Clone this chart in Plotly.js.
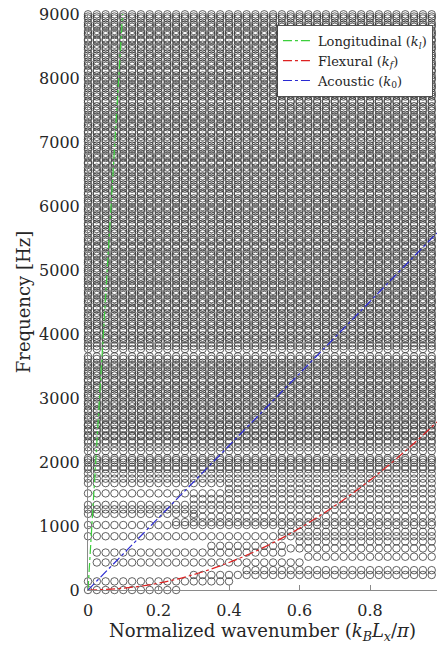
<!DOCTYPE html>
<html>
<head>
<meta charset="utf-8">
<script src="https://cdn.plot.ly/plotly-3.0.1.min.js"></script>
<style>
  html, body { margin: 0; padding: 0; background: #ffffff; }
  #chart { width: 437px; height: 647px; }
</style>
</head>
<body>
<div id="chart"></div>
<script>
// Normalized wavenumber bins (k_B L_x / pi) of the plate modes
const wavenumbers = [0, 0.025, 0.05, 0.075, 0.1, 0.125, 0.15, 0.175, 0.2, 0.225,
  0.25, 0.275, 0.3, 0.325, 0.35, 0.375, 0.4, 0.425, 0.45, 0.475,
  0.5, 0.525, 0.55, 0.575, 0.6, 0.625, 0.65, 0.675, 0.7, 0.725,
  0.75, 0.775, 0.8, 0.825, 0.85, 0.875, 0.9, 0.925, 0.95, 0.975];

// Low-frequency modes [Hz] and the wavenumber span in which each one shows up
const lowRowFreq = [0, 135, 235, 310, 430, 520, 585, 650, 690, 760, 840, 910, 1015, 1060, 1145, 1190, 1260, 1330, 1420, 1510, 1580, 1670, 1740, 1820];
const lowRowFrom = [0, 0, 0.3, 0.45, 0.025, 0.625, 0.025, 0.575, 0.35, 0.6, 0, 0.55, 0, 0.25, 0.3, 0, 0, 0, 0.3, 0, 0.4, 0, 0, 0];
const lowRowTo   = [0.25, 0.42, 0.975, 0.975, 0.6, 0.975, 0.55, 0.975, 0.55, 0.975, 0.975, 0.975, 0.975, 0.975, 0.975, 0.3, 0.975, 0.975, 0.975, 0.975, 0.975, 0.975, 0.975, 0.975];

// Higher modes [Hz], present across every wavenumber bin
const bandFreqs = [1890, 1925, 1990, 2030, 2060, 2170, 2230, 2300, 2335, 2400, 2420, 2480, 2515, 2570, 2590,
  2655, 2690, 2725, 2790, 2815, 2870, 2910, 2940, 3005, 3040, 3070, 3135, 3165, 3200, 3265, 3290,
  3350, 3385, 3420, 3480, 3515, 3550, 3610, 3650, 3765, 3810, 3855, 3915, 3940, 3980, 4045, 4070,
  4130, 4160, 4195, 4260, 4290, 4330, 4390, 4415, 4480, 4510, 4545, 4610, 4640, 4675, 4740, 4770,
  4825, 4860, 4895, 4960, 4990, 5025, 5090, 5120, 5155, 5220, 5250, 5290, 5350, 5375, 5440, 5470,
  5505, 5570, 5600, 5640, 5700, 5725, 5790, 5820, 5855, 5920, 5950, 5985, 6050, 6080, 6120, 6180,
  6205, 6270, 6300, 6335, 6400, 6430, 6465, 6530, 6560, 6600, 6660, 6685, 6750, 6780, 6815, 6880,
  6910, 6945, 7010, 7040, 7080, 7140, 7165, 7230, 7260, 7295, 7360, 7390, 7425, 7490, 7520, 7560,
  7620, 7645, 7710, 7740, 7775, 7840, 7870, 7905, 7970, 8000, 8040, 8100, 8125, 8190, 8220, 8255,
  8320, 8350, 8385, 8450, 8480, 8520, 8580, 8605, 8670, 8700, 8735, 8800, 8830, 8865, 8930, 8960, 8995];

// Analytical dispersion curves
const longK = [0, 0.098];
const longF = [0, 9000];
const flexK = [0, 0.1, 0.2, 0.3, 0.4, 0.5, 0.6, 0.7, 0.8, 0.9, 0.99];
const flexF = [0, 27, 107, 241, 430, 670, 965, 1315, 1715, 2170, 2625];
const acouK = [0, 0.99];
const acouF = [0, 5580];

const modeK = [], modeF = [];
wavenumbers.forEach(k => {
  lowRowFreq.forEach((f, i) => {
    if (k >= lowRowFrom[i] - 1e-9 && k <= lowRowTo[i] + 1e-9) { modeK.push(k); modeF.push(f); }
  });
  bandFreqs.forEach(f => { modeK.push(k); modeF.push(f); });
});

const serif = 'DejaVu Serif';
const ink = '#262626';

const traces = [
  {
    type: 'scatter', mode: 'markers', x: modeK, y: modeF,
    marker: { symbol: 'circle-open', size: 7.5, color: '#2e2e2e', line: { width: 0.75, color: '#2e2e2e' } },
    cliponaxis: false, showlegend: false, hoverinfo: 'skip'
  },
  {
    type: 'scatter', mode: 'lines', x: longK, y: longF, name: 'Longitudinal (<i>k</i><sub><i>l</i></sub>)',
    line: { color: '#3ccf3c', width: 1.2, dash: 'dashdot' }, cliponaxis: false
  },
  {
    type: 'scatter', mode: 'lines', x: flexK, y: flexF, name: 'Flexural (<i>k</i><sub><i>f</i></sub>)',
    line: { color: '#dd2222', width: 1.2, dash: 'dashdot', shape: 'spline' }
  },
  {
    type: 'scatter', mode: 'lines', x: acouK, y: acouF, name: 'Acoustic (<i>k</i><sub>0</sub>)',
    line: { color: '#2a2ad2', width: 1.2, dash: 'dashdot' }
  }
];

const axisCommon = {
  showgrid: false, zeroline: false, showline: true, linecolor: '#8a8a8a', linewidth: 1,
  ticks: 'inside', ticklen: 5, tickwidth: 1, tickcolor: '#8a8a8a',
  tickfont: { family: serif, size: 16, color: ink }
};

const layout = {
  width: 437, height: 647,
  margin: { l: 88, r: 0, t: 14, b: 57 },
  paper_bgcolor: '#ffffff', plot_bgcolor: '#ffffff',
  font: { family: serif, color: ink },
  xaxis: Object.assign({}, axisCommon, {
    range: [0, 0.99], tickvals: [0, 0.2, 0.4, 0.6, 0.8], ticktext: ['0', '0.2', '0.4', '0.6', '0.8'],
    ticklabelstandoff: 6,
    title: { text: 'Normalized wavenumber (<i>k</i><sub><i>B</i></sub><i>L</i><sub><i>x</i></sub>/<i>π</i>)', font: { family: serif, size: 18, color: ink }, standoff: 4 }
  }),
  yaxis: Object.assign({}, axisCommon, {
    range: [0, 9000], dtick: 1000, tick0: 0,
    ticklabelstandoff: 4,
    title: { text: 'Frequency [Hz]', font: { family: serif, size: 18, color: ink }, standoff: 3 }
  }),
  legend: {
    x: 0.989, y: 0.981, xanchor: 'right', yanchor: 'top',
    bgcolor: '#ffffff', bordercolor: ink, borderwidth: 0.8,
    font: { family: serif, size: 13, color: ink },
    itemwidth: 30, tracegroupgap: 0
  },
  showlegend: true
};

Plotly.newPlot('chart', traces, layout, { displayModeBar: false, staticPlot: true });
</script>
</body>
</html>
